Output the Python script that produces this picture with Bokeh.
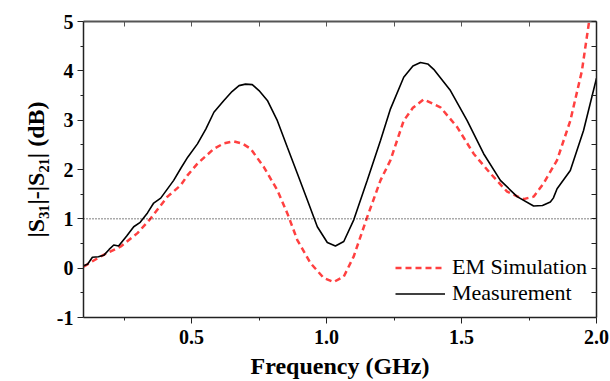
from bokeh.plotting import figure
from bokeh.models import LinearAxis, FixedTicker, Span, Range1d, NumeralTickFormatter
from bokeh.embed import file_html
from bokeh.resources import INLINE

f_meas = [0.10, 0.115, 0.133, 0.155, 0.175, 0.195, 0.212, 0.23, 0.26, 0.286, 0.31, 0.337, 0.36, 0.386,
          0.434, 0.46, 0.486, 0.522, 0.553, 0.583, 0.62, 0.65, 0.676, 0.70, 0.725, 0.75, 0.781, 0.818,
          0.855, 0.892, 0.929, 0.966, 1.003, 1.033, 1.064, 1.101, 1.151, 1.200, 1.237, 1.286, 1.320,
          1.348, 1.375, 1.397, 1.459, 1.521, 1.582, 1.644, 1.706, 1.767, 1.80, 1.829, 1.84, 1.854,
          1.903, 1.952, 2.0]
v_meas = [0.05, 0.08, 0.22, 0.23, 0.26, 0.38, 0.47, 0.45, 0.65, 0.84, 0.93, 1.12, 1.32, 1.42,
          1.78, 2.02, 2.25, 2.52, 2.82, 3.16, 3.40, 3.58, 3.70, 3.73, 3.72, 3.60, 3.40, 2.99,
          2.45, 1.92, 1.38, 0.84, 0.52, 0.45, 0.54, 0.98, 1.78, 2.59, 3.23, 3.87, 4.10,
          4.17, 4.14, 4.03, 3.60, 2.99, 2.32, 1.78, 1.45, 1.26, 1.27, 1.34, 1.42, 1.61,
          1.98, 2.79, 3.85]

f_sim = [0.10, 0.164, 0.238, 0.30, 0.349, 0.411, 0.46, 0.485, 0.522, 0.583, 0.62, 0.657, 0.69, 0.719,
         0.768, 0.818, 0.855, 0.892, 0.941, 0.99, 1.027, 1.064, 1.101, 1.151, 1.200, 1.237, 1.286,
         1.320, 1.360, 1.422, 1.484, 1.545, 1.607, 1.669, 1.730, 1.767, 1.804, 1.854, 1.903, 1.946,
         1.971, 1.99]
v_sim = [0.03, 0.24, 0.44, 0.71, 1.01, 1.45, 1.68, 1.88, 2.12, 2.42, 2.53, 2.57, 2.52, 2.42,
         2.05, 1.58, 1.11, 0.57, 0.10, -0.20, -0.28, -0.17, 0.24, 1.04, 1.78, 2.19, 2.99,
         3.25, 3.42, 3.26, 2.86, 2.32, 1.92, 1.55, 1.40, 1.45, 1.72, 2.19, 2.99, 4.00,
         4.94, 5.6]

x_major = [0.5, 1.0, 1.5, 2.0]
x_minor = [0.25, 0.75, 1.25, 1.75]
y_major = [-1, 0, 1, 2, 3, 4, 5]
y_minor = [-0.5, 0.5, 1.5, 2.5, 3.5, 4.5]

FONT = "Liberation Serif"
RED = "#ff4040"

p = figure(width=610, height=381, output_backend="svg", toolbar_location=None,
           x_range=Range1d(0.1, 2.0), y_range=Range1d(-1, 5),
           min_border_left=83, min_border_right=14, min_border_top=21, min_border_bottom=63)
p.grid.visible = False
p.outline_line_color = None
p.background_fill_color = "white"
p.border_fill_color = "white"

p.line(f_sim, v_sim, line_color=RED, line_width=2.5, line_dash="6 4", legend_label="EM Simulation")
p.line(f_meas, v_meas, line_color="black", line_width=1.6, legend_label="Measurement")

p.add_layout(Span(location=1, dimension="width", line_color="black", line_width=1, line_dash="1 2"))

for ax in p.xaxis:
    ax.ticker = FixedTicker(ticks=x_major, minor_ticks=x_minor)
    ax.formatter = NumeralTickFormatter(format="0.0")
    ax.axis_label = "Frequency (GHz)"
for ax in p.yaxis:
    ax.ticker = FixedTicker(ticks=y_major, minor_ticks=y_minor)
    ax.formatter = NumeralTickFormatter(format="0")
    ax.axis_label = "|S\u2083\u2081|-|S\u2082\u2081| (dB)"

for ax in list(p.xaxis) + list(p.yaxis):
    ax.axis_line_color = "#222222"
    ax.axis_line_width = 1.5
    ax.major_tick_line_color = "#222222"
    ax.minor_tick_line_color = "#222222"
    ax.major_tick_out = 6
    ax.major_tick_in = 0
    ax.minor_tick_out = 3
    ax.minor_tick_in = 0
    ax.major_label_text_font = FONT
    ax.major_label_text_font_style = "bold"
    ax.major_label_text_font_size = "20px"
    ax.major_label_text_color = "black"
    ax.axis_label_text_font = FONT
    ax.axis_label_text_font_style = "bold"
    ax.axis_label_text_font_size = "24px"
    ax.axis_label_text_color = "black"
    ax.major_label_standoff = 4

p.xaxis.major_label_standoff = 6
p.xaxis.axis_label_standoff = 6
p.yaxis.axis_label_standoff = 5

top = LinearAxis(ticker=FixedTicker(ticks=[], minor_ticks=x_major + x_minor),
                 major_tick_in=0, major_tick_out=0,
                 minor_tick_in=5, minor_tick_out=0, axis_line_color="#555555", axis_line_width=2,
                 minor_tick_line_color="#555555", major_label_standoff=0)
right = LinearAxis(ticker=FixedTicker(ticks=[], minor_ticks=y_major + y_minor),
                   major_tick_in=0, major_tick_out=0,
                   minor_tick_in=5, minor_tick_out=0, axis_line_color="#222222", axis_line_width=1.5,
                   minor_tick_line_color="#222222", major_label_standoff=0)
p.add_layout(top, "above")
p.add_layout(right, "right")

lg = p.legend[0]
lg.location = (312, 11)
lg.border_line_color = None
lg.background_fill_alpha = 0
lg.padding = 0
lg.margin = 0
lg.spacing = 0
lg.glyph_width = 50
lg.glyph_height = 25
lg.label_height = 25
lg.label_standoff = 7
lg.label_text_font = FONT
lg.label_text_font_size = "22px"
lg.label_text_color = "black"

open("out.html", "w").write(file_html(p, INLINE))
